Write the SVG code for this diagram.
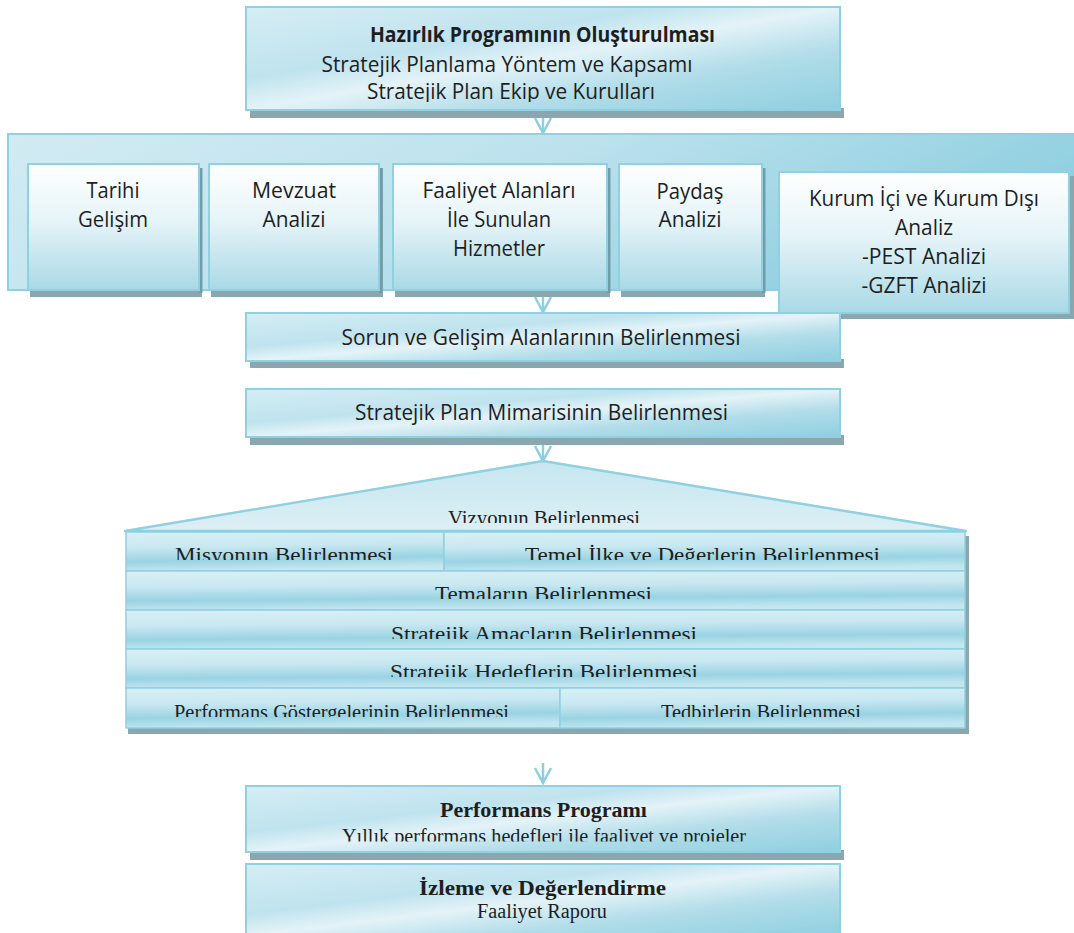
<svg xmlns="http://www.w3.org/2000/svg" width="1074" height="933" viewBox="0 0 1074 933">
<defs>
<linearGradient id="gBox" x1="0" y1="0" x2="1" y2="1">
<stop offset="0" stop-color="#d6edf4"/>
<stop offset="0.35" stop-color="#bfe3ee"/>
<stop offset="0.5" stop-color="#e4f3f8"/>
<stop offset="0.7" stop-color="#b2dde9"/>
<stop offset="1" stop-color="#8fcfe0"/>
</linearGradient>
<linearGradient id="gCont" x1="0" y1="0" x2="1" y2="0.3">
<stop offset="0" stop-color="#d2ebf3"/>
<stop offset="0.5" stop-color="#bde2ed"/>
<stop offset="1" stop-color="#8fcfe0"/>
</linearGradient>
<linearGradient id="gWhite" x1="0" y1="0" x2="0" y2="1">
<stop offset="0" stop-color="#ffffff"/>
<stop offset="0.45" stop-color="#e6f4f8"/>
<stop offset="1" stop-color="#a9d9e6"/>
</linearGradient>
<linearGradient id="gRow" x1="0" y1="0" x2="0.15" y2="1">
<stop offset="0" stop-color="#d9eff5"/>
<stop offset="0.4" stop-color="#c9e8f1"/>
<stop offset="0.75" stop-color="#9ad3e3"/>
<stop offset="1" stop-color="#c3e6ef"/>
</linearGradient>
<linearGradient id="gRoof" x1="0" y1="0" x2="0" y2="1">
<stop offset="0" stop-color="#c6e6ef"/>
<stop offset="1" stop-color="#dceff5"/>
</linearGradient>
<marker id="arr" viewBox="0 0 20 20" refX="18" refY="10" markerWidth="20" markerHeight="20" markerUnits="userSpaceOnUse" orient="auto">
<path d="M3,2 L18,10 L3,18" fill="none" stroke="#8ccfe0" stroke-width="2.5"/>
</marker>
<clipPath id="cViz"><rect x="126" y="455" width="840" height="68"/></clipPath>
<clipPath id="cR1"><rect x="126" y="533" width="840" height="27"/></clipPath>
<clipPath id="cR2"><rect x="126" y="572" width="840" height="27"/></clipPath>
<clipPath id="cR3"><rect x="126" y="611" width="840" height="28"/></clipPath>
<clipPath id="cR4"><rect x="126" y="650" width="840" height="27"/></clipPath>
<clipPath id="cR5"><rect x="126" y="689" width="840" height="28"/></clipPath>
<clipPath id="cPP"><rect x="246" y="787" width="594" height="54.5"/></clipPath>
<clipPath id="cTop"><rect x="246" y="8" width="594" height="94"/></clipPath>
</defs>
<style>
.box{fill:url(#gBox);stroke:#8fd0e1;stroke-width:2}
.wbox{fill:url(#gWhite);stroke:#8fd0e1;stroke-width:2}
.row{fill:url(#gRow);stroke:#8fd0e1;stroke-width:1.5}
.sh{fill:#8aa6ae}
.sd{fill:#6f9eaa}
.s{font-family:"Open Sans","Liberation Sans",sans-serif;fill:#1e1e1e;text-anchor:middle;font-size:21px}
.sb{font-weight:bold}
.r{font-family:"Liberation Serif","DejaVu Serif",serif;fill:#1e1e1e;text-anchor:middle;font-size:20.5px}
.conn{stroke:#8ccfe0;stroke-width:2.5;fill:none}
</style>

<g id="connectors">
<line class="conn" x1="543" y1="112" x2="543" y2="133" marker-end="url(#arr)"/>
<line class="conn" x1="543" y1="291" x2="543" y2="312" marker-end="url(#arr)"/>
<line class="conn" x1="543" y1="438" x2="543" y2="461" marker-end="url(#arr)"/>
<line class="conn" x1="543" y1="763" x2="543" y2="783" marker-end="url(#arr)"/>
</g>

<g id="hazirlik">
<rect class="sh" x="250" y="108" width="594" height="10"/>
<rect class="box" x="246" y="7" width="594" height="103"/>
<text class="s sb" x="542.5" y="41.5" textLength="345" lengthAdjust="spacingAndGlyphs">Hazırlık Programının Oluşturulması</text>
<text class="s" x="507" y="71.5" textLength="371" lengthAdjust="spacingAndGlyphs">Stratejik Planlama Yöntem ve Kapsamı</text>
<text class="s" x="511" y="98.5" textLength="288" lengthAdjust="spacingAndGlyphs" clip-path="url(#cTop)">Stratejik Plan Ekip ve Kurulları</text>
</g>

<g id="analiz-container">
<rect class="box" style="fill:url(#gCont)" x="8" y="134" width="1070" height="156"/>
</g>

<g id="tarihi">
<rect class="sh" x="30" y="168" width="172" height="129"/>
<rect class="sd" x="199" y="168" width="3.5" height="125"/>
<rect class="wbox" x="28" y="164" width="171" height="126"/>
<text class="s" x="113" y="198" textLength="53" lengthAdjust="spacingAndGlyphs">Tarihi</text>
<text class="s" x="113" y="227" textLength="70" lengthAdjust="spacingAndGlyphs">Gelişim</text>
</g>
<g id="mevzuat">
<rect class="sh" x="211" y="168" width="172" height="129"/>
<rect class="sd" x="379" y="168" width="3.5" height="125"/>
<rect class="wbox" x="209" y="164" width="170" height="126"/>
<text class="s" x="294" y="198" textLength="84" lengthAdjust="spacingAndGlyphs">Mevzuat</text>
<text class="s" x="294" y="227" textLength="63" lengthAdjust="spacingAndGlyphs">Analizi</text>
</g>
<g id="faaliyet">
<rect class="sh" x="395" y="168" width="215" height="129"/>
<rect class="sd" x="607" y="168" width="3.5" height="125"/>
<rect class="wbox" x="393" y="164" width="214" height="126"/>
<text class="s" x="499" y="198" textLength="153" lengthAdjust="spacingAndGlyphs">Faaliyet Alanları</text>
<text class="s" x="499" y="227" textLength="104" lengthAdjust="spacingAndGlyphs">İle Sunulan</text>
<text class="s" x="499" y="256" textLength="92" lengthAdjust="spacingAndGlyphs">Hizmetler</text>
</g>
<g id="paydas">
<rect class="sh" x="621" y="168" width="144" height="129"/>
<rect class="sd" x="762" y="168" width="3.5" height="125"/>
<rect class="wbox" x="619" y="164" width="143" height="126"/>
<text class="s" x="690" y="199" textLength="67" lengthAdjust="spacingAndGlyphs">Paydaş</text>
<text class="s" x="690" y="227" textLength="63" lengthAdjust="spacingAndGlyphs">Analizi</text>
</g>
<g id="kurum">
<rect class="sh" x="781" y="176" width="293" height="143"/>
<rect class="sd" x="780" y="310" width="60" height="5"/>
<rect class="wbox" x="779" y="172" width="290" height="141"/>
<text class="s" x="924" y="206" textLength="230" lengthAdjust="spacingAndGlyphs">Kurum İçi ve Kurum Dışı</text>
<text class="s" x="924" y="235" textLength="58" lengthAdjust="spacingAndGlyphs">Analiz</text>
<text class="s" x="924" y="264" textLength="124" lengthAdjust="spacingAndGlyphs">-PEST Analizi</text>
<text class="s" x="924" y="293" textLength="125" lengthAdjust="spacingAndGlyphs">-GZFT Analizi</text>
</g>

<g id="sorun">
<rect class="sh" x="250" y="359" width="594" height="9"/>
<rect class="box" x="246" y="313" width="594" height="48"/>
<text class="s" x="541" y="345" textLength="399" lengthAdjust="spacingAndGlyphs">Sorun ve Gelişim Alanlarının Belirlenmesi</text>
</g>

<g id="mimari">
<rect class="sh" x="250" y="435" width="594" height="10"/>
<rect class="box" x="246" y="389" width="594" height="48"/>
<text class="s" x="541.5" y="420" textLength="373" lengthAdjust="spacingAndGlyphs">Stratejik Plan Mimarisinin Belirlenmesi</text>
</g>

<g id="plan-mimarisi">
<rect class="sh" x="128" y="725" width="841" height="9"/>
<rect class="sh" x="965" y="536" width="4" height="195"/>
<polygon points="543,461 125,531 966,531" fill="url(#gRoof)" stroke="#8fd0e1" stroke-width="2.5" stroke-linejoin="round"/>
<g id="vizyon"><text class="r" x="544" y="524.5" textLength="192" lengthAdjust="spacingAndGlyphs" clip-path="url(#cViz)">Vizyonun Belirlenmesi</text></g>
<g id="misyon">
<rect class="row" x="126" y="532" width="318" height="39"/>
<text class="r" x="284" y="561.5" textLength="218" lengthAdjust="spacingAndGlyphs" clip-path="url(#cR1)">Misyonun Belirlenmesi</text>
</g>
<g id="temel">
<rect class="row" x="444" y="532" width="521" height="39"/>
<text class="r" x="702.5" y="561.5" textLength="355" lengthAdjust="spacingAndGlyphs" clip-path="url(#cR1)">Temel İlke ve Değerlerin Belirlenmesi</text>
</g>
<g id="temalar">
<rect class="row" x="126" y="571" width="839" height="39"/>
<text class="r" x="543.5" y="600.5" textLength="217" lengthAdjust="spacingAndGlyphs" clip-path="url(#cR2)">Temaların Belirlenmesi</text>
</g>
<g id="amaclar">
<rect class="row" x="126" y="610" width="839" height="39"/>
<text class="r" x="544" y="640.5" textLength="306" lengthAdjust="spacingAndGlyphs" clip-path="url(#cR3)">Stratejik Amaçların Belirlenmesi</text>
</g>
<g id="hedefler">
<rect class="row" x="126" y="649" width="839" height="39"/>
<text class="r" x="544" y="678.5" textLength="308" lengthAdjust="spacingAndGlyphs" clip-path="url(#cR4)">Stratejik Hedeflerin Belirlenmesi</text>
</g>
<g id="gostergeler">
<rect class="row" x="126" y="688" width="434" height="40"/>
<text class="r" x="341.5" y="718.5" font-size="19" textLength="335" lengthAdjust="spacingAndGlyphs" clip-path="url(#cR5)">Performans Göstergelerinin Belirlenmesi</text>
</g>
<g id="tedbirler">
<rect class="row" x="560" y="688" width="405" height="40"/>
<text class="r" x="761" y="718.5" font-size="19" textLength="200" lengthAdjust="spacingAndGlyphs" clip-path="url(#cR5)">Tedbirlerin Belirlenmesi</text>
</g>
</g>

<g id="performans">
<rect class="sh" x="250" y="850" width="594" height="10"/>
<rect class="box" x="246" y="786" width="594" height="66"/>
<text class="r sb" x="543.5" y="816.5" font-size="22" textLength="207" lengthAdjust="spacingAndGlyphs">Performans Programı</text>
<text class="r" x="544" y="843" font-size="19" textLength="404" lengthAdjust="spacingAndGlyphs" clip-path="url(#cPP)">Yıllık performans hedefleri ile faaliyet ve projeler</text>
</g>

<g id="izleme">
<rect class="box" x="246" y="864" width="594" height="72"/>
<text class="r sb" x="542.5" y="895" font-size="22" textLength="247" lengthAdjust="spacingAndGlyphs">İzleme ve Değerlendirme</text>
<text class="r" x="542" y="918" font-size="18" textLength="130" lengthAdjust="spacingAndGlyphs">Faaliyet Raporu</text>
</g>
</svg>
